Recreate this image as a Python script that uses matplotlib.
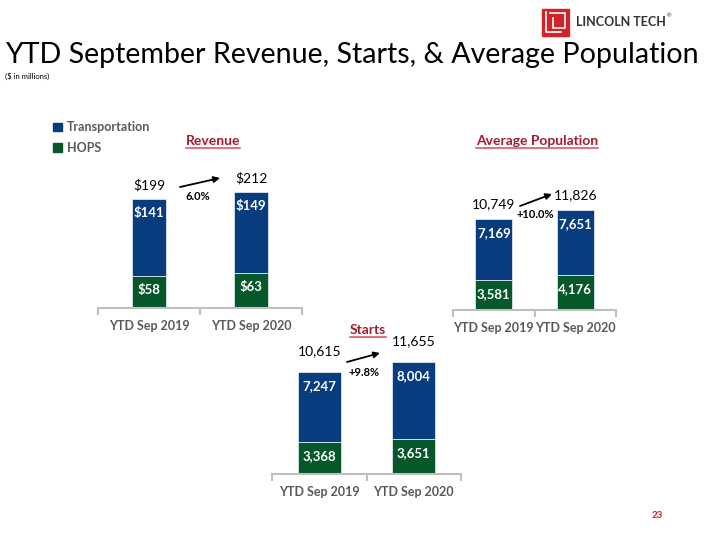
import matplotlib
matplotlib.use('Agg')
import matplotlib.pyplot as plt
from matplotlib.lines import Line2D
from matplotlib.patches import Rectangle, Patch

# data
periods = ['YTD Sep 2019', 'YTD Sep 2020']
revenue_transport = [141, 149]
revenue_hops = [58, 63]
revenue_total = [199, 212]
population_transport = [7169, 7651]
population_hops = [3581, 4176]
population_total = [10749, 11826]
starts_transport = [7247, 8004]
starts_hops = [3368, 3651]
starts_total = [10615, 11655]
growth = ['6.0%', '+10.0%', '+9.8%']

BLUE = '#073C7E'
GREEN = '#06582A'
RED = '#A6192E'
GREY = '#595959'
FONT = ['Lato', 'DejaVu Sans']

plt.rcParams['font.family'] = FONT

W, H = 720, 540
fig = plt.figure(figsize=(7.2, 5.4), dpi=100)


def px(x0, y0, w, h):
    # slide pixel box (top-left origin) -> figure fraction
    return [x0 / W, (H - y0 - h) / H, w / W, h / H]


def stacked(ax, transport, hops, total, width, ymax, fmt, top_pad):
    x = range(len(periods))
    ax.bar(x, hops, width, color=GREEN, edgecolor='#dfe6ee', linewidth=0.6)
    ax.bar(x, transport, width, bottom=hops, color=BLUE, edgecolor='#dfe6ee', linewidth=0.6)
    for i in x:
        ax.annotate(fmt(hops[i]), (i, hops[i]), xytext=(0, -14), textcoords='offset pixels',
                    ha='center', va='center', color='white', fontsize=9.5, fontweight='bold')
        ax.annotate(fmt(transport[i]), (i, hops[i] + transport[i]), xytext=(0, -14),
                    textcoords='offset pixels', ha='center', va='center', color='white',
                    fontsize=9.5, fontweight='bold')
        ax.annotate(fmt(total[i]), (i, total[i]), xytext=(0, top_pad), textcoords='offset pixels',
                    ha='center', va='center', color='black', fontsize=10)
    ax.set_xlim(-0.5, 1.5)
    ax.set_ylim(0, ymax)
    for s in ['top', 'right', 'left']:
        ax.spines[s].set_visible(False)
    ax.spines['bottom'].set_color('#bfbfbf')
    ax.spines['bottom'].set_linewidth(1.5)
    ax.set_yticks([])
    ax.set_xticks([0, 1])
    ax.set_xticklabels(periods, fontsize=9, fontweight='bold', color=GREY)
    ax.tick_params(axis='x', length=0, pad=9)
    ax.set_xticks([-0.5, 0.5, 1.5], minor=True)
    ax.tick_params(axis='x', which='minor', length=5, width=1.5, color='#bfbfbf')
    ax.patch.set_alpha(0)


ax_rev = fig.add_axes(px(98, 308 - 137, 204, 137))
stacked(ax_rev, revenue_transport, revenue_hops, revenue_total, 0.33, 250,
        lambda v: f'${v}', 14)

ax_pop = fig.add_axes(px(453, 310 - 118.6, 163, 118.6))
stacked(ax_pop, population_transport, population_hops, population_total, 0.45, 14000,
        lambda v: f'{v:,}', 15)

ax_st = fig.add_axes(px(272, 474 - 134.5, 189, 134.5))
stacked(ax_st, starts_transport, starts_hops, starts_total, 0.45, 14000,
        lambda v: f'{v:,}', 21)

# growth arrows
arrows = [((180, 187), (220, 178), (198, 197)),
          ((520, 206), (552, 194), (535, 214)),
          ((347, 362), (380, 353), (364, 373))]
for (a, b, t), g in zip(arrows, growth):
    fig.add_artist(plt.Annotation('', xy=(b[0], H - b[1]), xytext=(a[0], H - a[1]),
                                  xycoords='figure pixels', textcoords='figure pixels',
                                  arrowprops=dict(arrowstyle='-|>', color='black', lw=1.3,
                                                  mutation_scale=9, shrinkA=0, shrinkB=0)))
    fig.text(t[0] / W, (H - t[1]) / H, g, ha='center', va='center', fontsize=8,
             fontweight='bold')

# section titles with underline
titles = [('Revenue', 213, 141), ('Average Population', 537, 141), ('Starts', 368, 330)]
title_objs = []
for name, cx, cy in titles:
    title_objs.append(fig.text(cx / W, (H - cy) / H, name, ha='center', va='center',
                               fontsize=10, fontweight='bold', color=RED))

# main title
fig.text(5 / W, (H - 63) / H, 'YTD September Revenue, Starts, & Average Population',
         fontsize=20.6, ha='left', va='baseline', color='black')
fig.text(5 / W, (H - 76) / H, '($ in millions)', fontsize=5.5, ha='left', va='center')

# legend
fig.legend(handles=[Patch(color=BLUE), Patch(color=GREEN)], labels=['Transportation', 'HOPS'],
           loc='upper left', bbox_to_anchor=(42 / W, (H - 110) / H), frameon=False,
           handlelength=0.7, handleheight=0.7, handletextpad=0.4, labelspacing=0.7,
           prop=dict(size=9, weight='bold'), labelcolor=GREY)

# logo
fig.add_artist(Rectangle((542 / W, (H - 36) / H), 27 / W, 27 / H, transform=fig.transFigure,
                         color='#D2232A'))
for xs, ys in [([546, 546, 561], [12, 32, 32]),
               ([550, 565, 565, 553, 553], [13, 13, 28, 28, 18])]:
    fig.add_artist(Line2D([v / W for v in xs], [(H - v) / H for v in ys],
                          transform=fig.transFigure, color='white', lw=1.2))
fig.text(576 / W, (H - 22) / H, 'LINCOLN TECH', fontsize=9, fontweight='bold',
         color='#333333', va='center')
fig.text(667 / W, (H - 16) / H, '®', fontsize=4, color='#333333', va='center')

# page number
fig.text(657 / W, (H - 515) / H, '23', fontsize=7, fontweight='bold', color='#D2232A',
         ha='center', va='center')

fig.canvas.draw()
r = fig.canvas.get_renderer()
for t in title_objs:
    bb = t.get_window_extent(r)
    fig.add_artist(Line2D([bb.x0 / W, bb.x1 / W], [(bb.y0 - 1) / H] * 2,
                          transform=fig.transFigure, color='#D45B6A', lw=1.2))

fig.savefig('out.png', dpi=100)
